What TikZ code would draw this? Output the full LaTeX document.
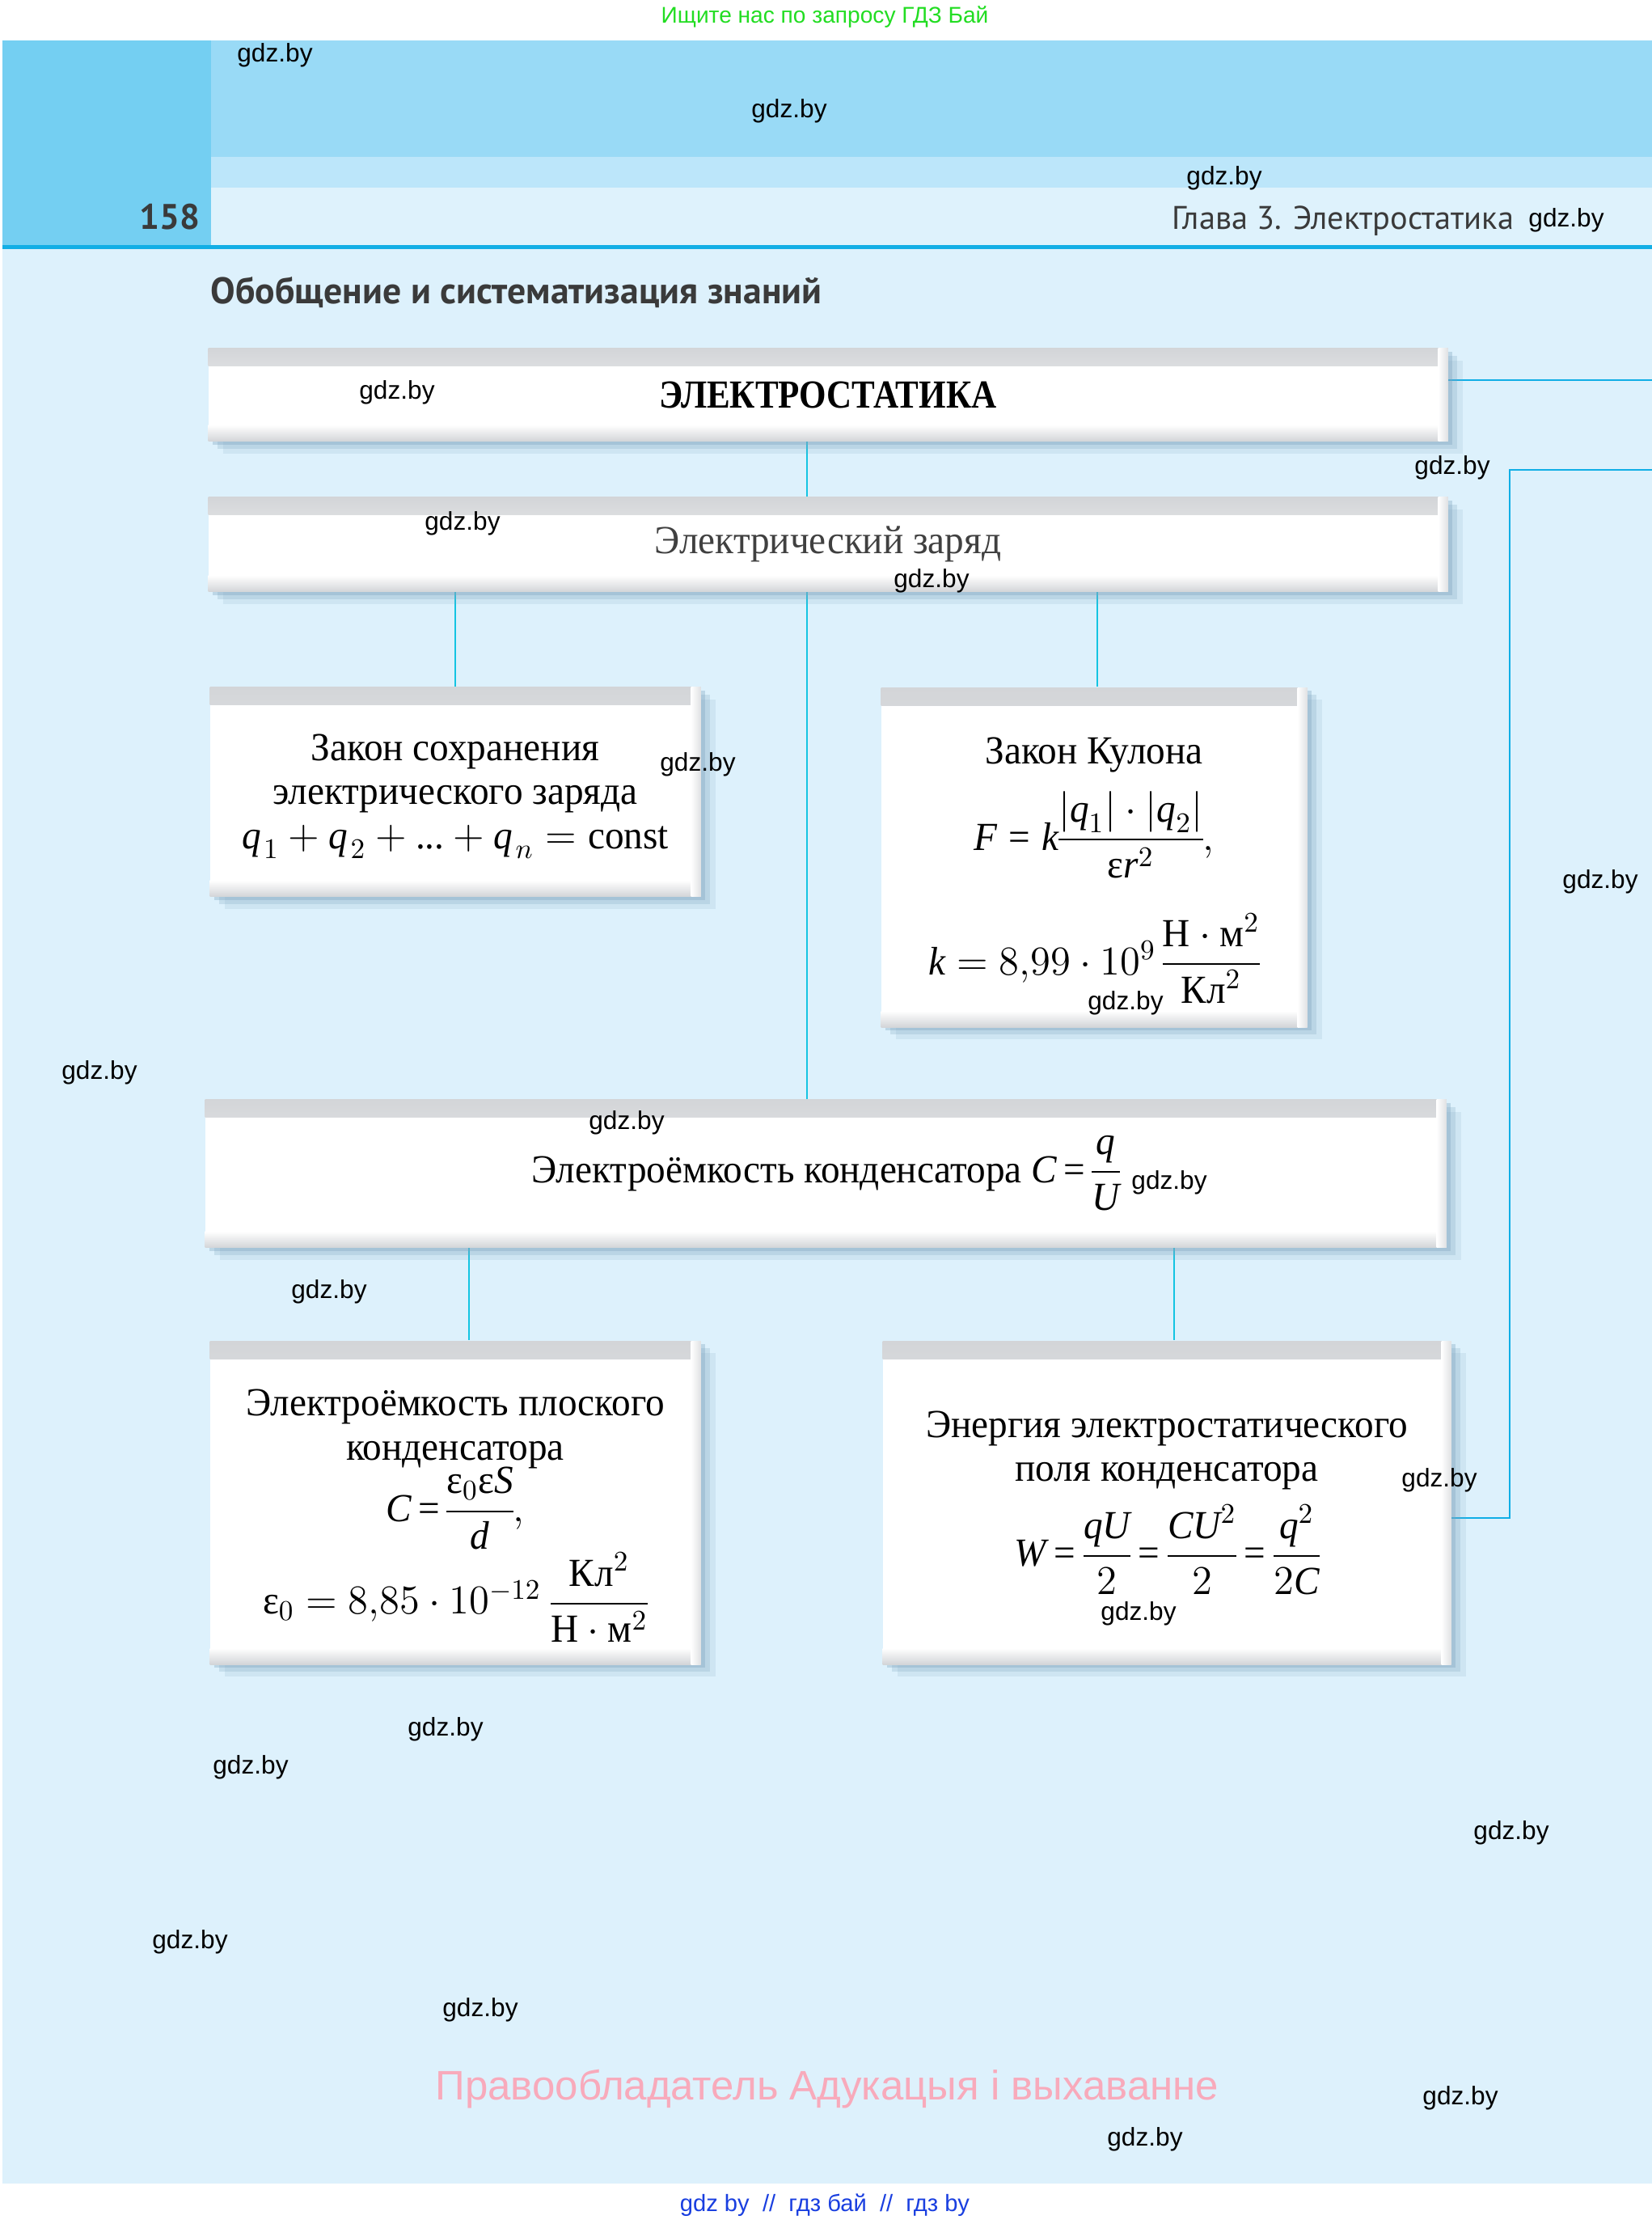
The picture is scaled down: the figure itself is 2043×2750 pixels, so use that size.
\documentclass[tikz,border=0pt]{standalone}
\usepackage{fontspec}
\usepackage{amsmath}
\setmainfont{Liberation Serif}[FakeStretch=0.96]
\newfontfamily\titlefont{Liberation Serif}[FakeStretch=0.875]
\newfontfamily\headfont{PT Sans}
\newfontfamily\markfont{Liberation Sans}
\usetikzlibrary{positioning, backgrounds, shadows}
\definecolor{pagebg}{HTML}{DDF1FC}
\definecolor{bandtop}{HTML}{99DAF6}
\definecolor{bandmid}{HTML}{BCE6FA}
\definecolor{bandlow}{HTML}{DEF2FC}
\definecolor{pagecol}{HTML}{74CFF2}
\definecolor{rulecol}{HTML}{12AEE5}
\definecolor{linkcyan}{HTML}{14C4E2}
\definecolor{linkblue}{HTML}{10AEE6}
\definecolor{bevel}{HTML}{D3D5D8}
\definecolor{shadowcol}{HTML}{7FA6BF}
\definecolor{inkgray}{HTML}{3A3A3A}
\definecolor{searchgreen}{HTML}{22DD22}
\definecolor{ownerpink}{HTML}{F8AABB}
\definecolor{siteblue}{HTML}{1A3FE0}
\newcommand\mv[1]{\textit{#1}}
\newcommand\eps{\text{ε}}
\newcommand\eq{\mathrel{\text{=}}}
\nulldelimiterspace=0pt

\begin{document}
\begin{tikzpicture}[
    x=0.1mm, y=-0.1mm,
    box/.style={fill=white, inner sep=0pt, align=center,
        font=\fontsize{14}{15.5}\selectfont,
        drop shadow={shadow xshift=0.5mm, shadow yshift=-0.4mm, fill=shadowcol, opacity=.35},
        drop shadow={shadow xshift=1.1mm, shadow yshift=-0.9mm, fill=shadowcol, opacity=.25},
        drop shadow={shadow xshift=1.8mm, shadow yshift=-1.5mm, fill=shadowcol, opacity=.15},
        path picture={
            \shade[top color=bevel, middle color=bevel!40, bottom color=white]
                (path picture bounding box.north west) rectangle ([yshift=-2.2mm]path picture bounding box.north east);
            \shade[top color=white, middle color=bevel!45, bottom color=bevel]
                ([yshift=2mm]path picture bounding box.south west) rectangle (path picture bounding box.south east);
            \shade[left color=white, right color=bevel!70]
                ([xshift=-1.2mm]path picture bounding box.north east) rectangle (path picture bounding box.south east);
        }},
    link/.style={draw=linkcyan, line width=0.8pt},
    exitlink/.style={draw=linkblue, line width=0.8pt},
    wmark/.style={font=\markfont\fontsize{9}{10}\selectfont, inner sep=0pt},
]
\useasboundingbox (0,0) rectangle (2043,2750);

% page background and running head
\begin{scope}[on background layer]
    \fill[white] (0,0) rectangle (2043,2750);
    \fill[bandtop] (3,50) rectangle (2043,194);
    \fill[bandmid] (261,194) rectangle (2043,232);
    \fill[bandlow] (261,232) rectangle (2043,303);
    \fill[pagecol] (3,50) rectangle (261,303);
    \fill[rulecol] (3,303) rectangle (2043,308);
    \fill[pagebg] (3,308) rectangle (2043,2700);
\end{scope}

\node[font=\markfont\fontsize{8}{10}\selectfont, text=searchgreen] (search) at (1020,21) {Ищите нас по запросу ГДЗ Бай};
\node[font=\headfont\bfseries\fontsize{12.5}{14}\selectfont, text=inkgray, anchor=base east, inner sep=0pt] (pageno) at (248,283) {158};
\node[font=\headfont\fontsize{11.5}{13}\selectfont, text=inkgray, anchor=base east, inner sep=0pt] (chapter) at (1873,283) {Глава 3. Электростатика};
\node[font=\headfont\bfseries\fontsize{13}{15}\selectfont, text=inkgray, anchor=base west, inner sep=0pt] (heading) at (260,375) {Обобщение и систематизация знаний};

% boxes
\node[box, minimum width=153.3mm, minimum height=11.5mm] (title) at (1024,488) {\titlefont\bfseries ЭЛЕКТРОСТАТИКА};
\node[box, minimum width=153.3mm, minimum height=11.7mm, text=black!75] (charge) at (1024,673) {Электрический заряд};
\node[box, minimum width=60.7mm, minimum height=25.9mm] (conserve) at (563,979)
    {\rule{0pt}{4.4mm}Закон сохранения\\ электрического заряда\\
     $\mv{q}_{\kern1pt 1} + \mv{q}_{\kern1pt 2} + \text{...} + \mv{q}_{\kern1pt n} = \text{const}$};
\node[box, minimum width=52.7mm, minimum height=42mm] (coulomb) at (1353,1060)
    {\rule{0pt}{6.6mm}Закон Кулона\\[2mm]
     $\mv{F} \eq \mv{k}\dfrac{|\mv{q}_1|\cdot|\mv{q}_2|}{\eps\mv{r}^2},$\\[4mm]
     $\mv{k} = 8{,}99\cdot 10^9\,\dfrac{\text{Н}\cdot\text{м}^2}{\text{Кл}^2}$};
\node[box, minimum width=153.5mm, minimum height=18.3mm] (capac) at (1021,1451)
    {Электроёмкость конденсатора~$\thickmuskip=3mu \mv{C} \eq \dfrac{\mv{q}}{\mv{U}}$};
\node[box, minimum width=60.7mm, minimum height=40mm] (flat) at (563,1858)
    {\rule{0pt}{6.5mm}Электроёмкость плоского\\ конденсатора\\[-0.5mm]
     $\thickmuskip=3mu \mv{C} \eq \dfrac{\eps_0\eps\mv{S}}{\mv{d}},$\\
     $\eps_0 = 8{,}85\cdot 10^{-12}\ \dfrac{\text{Кл}^2}{\text{Н}\cdot\text{м}^2}$};
\node[box, minimum width=70.3mm, minimum height=40mm] (energy) at (1443,1858)
    {Энергия электростатического\\ поля конденсатора\\[1.5mm]
     $\thickmuskip=3.5mu \mv{W} \eq \dfrac{\mv{qU}}{2} \eq \dfrac{\mv{CU}^2}{2} \eq \dfrac{\mv{q}^2}{2\mv{C}}$};

% connectors
\coordinate (spine) at (998,0);
\coordinate (exit1) at (2043,470);
\coordinate (bend) at (1867,1877);
\coordinate (exit2) at (2043,581);
\begin{scope}[on background layer]
    \draw[link] (title.south -| spine) -- (charge.north -| spine);
    \draw[link] (charge.south -| spine) -- (capac.north -| spine);
    \draw[link] (charge.south -| conserve) -- (conserve.north);
    \draw[link] ([xshift=0.4mm]charge.south -| coulomb) -- ([xshift=0.4mm]coulomb.north);
    \draw[link] ([xshift=1.7mm]capac.south -| flat) -- ([xshift=1.7mm]flat.north);
    \draw[link] ([xshift=0.9mm]capac.south -| energy) -- ([xshift=0.9mm]energy.north);
    \draw[exitlink] (title.east |- exit1) -- (exit1);
    \draw[exitlink] (energy.east |- bend) -- (bend) |- (exit2);
\end{scope}

% watermarks
\foreach \px/\py [count=\i] in {340/68, 976/137, 1514/220, 1937/272, 491/485, 1796/578,
    572/647, 1152/718, 863/945, 123/1326, 1392/1240, 775/1388, 1446/1462, 407/1597,
    1780/1830, 1408/1995, 1979/1090, 551/2138, 310/2185, 1869/2266, 235/2401,
    594/2485, 1806/2594, 1416/2645}
    \node[wmark] (wm\i) at (\px,\py) {gdz.by};

\node[font=\markfont\fontsize{14.5}{16}\selectfont, text=ownerpink] (owner) at (1023,2583) {Правообладатель Адукацыя і выхаванне};
\node[font=\markfont\fontsize{8.3}{10}\selectfont, text=siteblue] (site) at (1020,2727) {gdz by\ \ //\ \ гдз бай\ \ //\ \ гдз by};
\end{tikzpicture}
\end{document}
